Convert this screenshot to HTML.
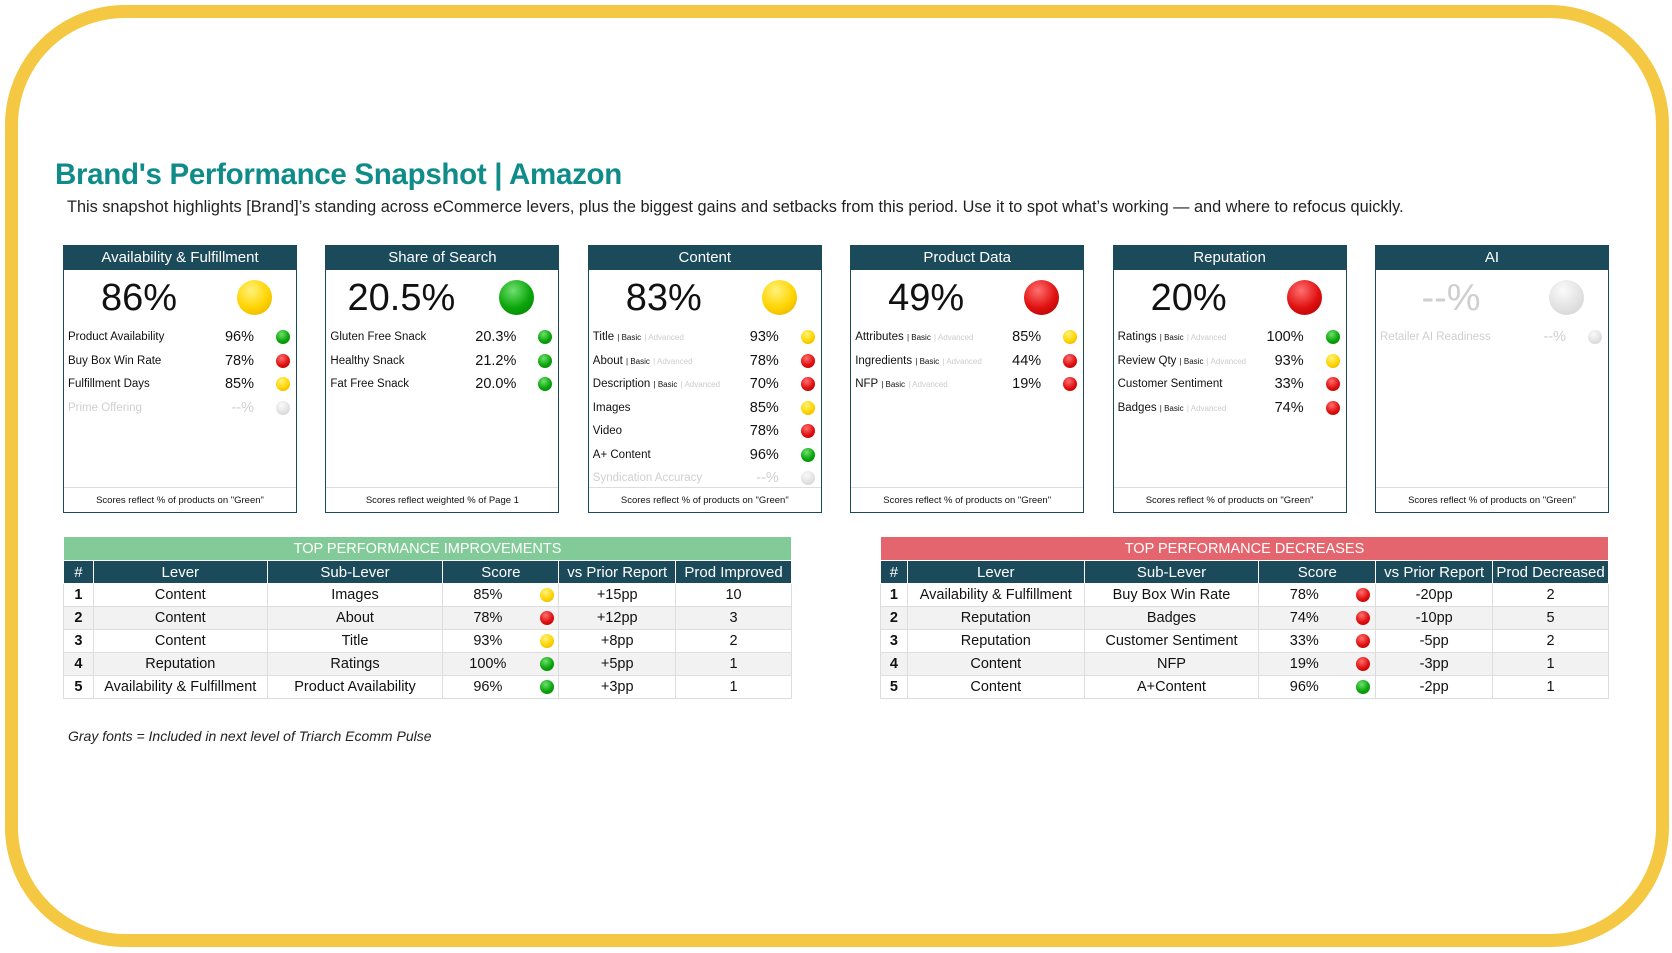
<!DOCTYPE html>
<html><head><meta charset="utf-8">
<style>
*{box-sizing:border-box;margin:0;padding:0}
body{width:1672px;height:953px;background:#fff;position:relative;overflow:hidden;font-family:"Liberation Sans",sans-serif;color:#111}
.frame{position:absolute;left:5px;top:5px;width:1664px;height:942px;border:13px solid #f4c842;border-radius:120px}
.title{position:absolute;left:55px;top:158px;font-size:29.5px;font-weight:bold;color:#0f8c8a;letter-spacing:-0.3px}
.sub{position:absolute;left:67px;top:198px;font-size:16.3px;color:#222}
.card{position:absolute;top:245px;width:234px;height:268px;border:1.5px solid #1b4a5a;background:#fff}
.card .hd{height:24px;background:#1b4a5a;color:#fff;font-size:15px;text-align:center;line-height:24px}
.big{position:absolute;top:30px;width:150px;text-align:center;left:0;font-size:38px;line-height:44px}
.bigdot{position:absolute;top:34px;left:173px;width:35px;height:35px;border-radius:50%}
.row{position:absolute;left:4px;width:224px;height:20px;font-size:11.5px;line-height:20px}
.row .v{position:absolute;right:38px;top:0;font-size:14.5px}
.row .d{position:absolute;right:2px;top:3px;width:14px;height:14px;border-radius:50%}
.row .b{font-size:8px}.row .a{font-size:8px;color:#ccc}
.foot{position:absolute;left:0;right:0;bottom:0;height:25px;border-top:1px solid #ddd;font-size:9.5px;text-align:center;line-height:25px}
.g{background:radial-gradient(circle at 40% 30%,#6fe06f,#0aa50a 55%,#067a06)}
.y{background:radial-gradient(circle at 40% 30%,#fff27a,#ffd400 55%,#e0a800)}
.r{background:radial-gradient(circle at 40% 30%,#ff7070,#e01010 55%,#a80000)}
.n{background:radial-gradient(circle at 40% 30%,#fafafa,#e0e0e0 60%,#cfcfcf)}
.gray{color:#cfcfcf!important}
table{position:absolute;top:536px;border-collapse:collapse;font-size:14.5px;border:1.5px solid #1b4a5a}
td,th{border:1px solid #ddd;height:23px;text-align:center;padding:0}
th{background:#1b4a5a;color:#fff;font-weight:normal;border-color:#fff;font-size:15px}
.cap{color:#fff;font-size:14.5px;height:24px}
tr.alt td{background:#f2f2f2}
td.num{font-weight:bold}
.sc{display:flex;align-items:center;justify-content:center;height:22px}
.sc span.t{width:60px;text-align:center;margin-left:10px}
.sd{display:inline-block;width:14px;height:14px;border-radius:50%;margin-left:22px}
.note{position:absolute;left:68px;top:728px;font-size:14px;font-style:italic;color:#222}
</style></head><body>
<div class="frame"></div>
<div class="title">Brand's Performance Snapshot | Amazon</div>
<div class="sub">This snapshot highlights [Brand]’s standing across eCommerce levers, plus the biggest gains and setbacks from this period. Use it to spot what’s working — and where to refocus quickly.</div>
<div id="cards"></div>
<table id="imp" style="left:63px;width:729px"></table>
<table id="dec" style="left:880px;width:729px"></table>
<div class="note">Gray fonts = Included in next level of Triarch Ecomm Pulse</div>
<script>
const cardTitles=["Availability & Fulfillment","Share of Search","Content","Product Data","Reputation","AI"];
const cardScores=["86%","20.5%","83%","49%","20%","--%"];
const cardStatus=["y","g","y","r","r","n"];
const cardFooters=['Scores reflect % of products on "Green"','Scores reflect weighted % of Page 1','Scores reflect % of products on "Green"','Scores reflect % of products on "Green"','Scores reflect % of products on "Green"','Scores reflect % of products on "Green"'];
const cardRows=[
 [["Product Availability",0,"96%","g"],["Buy Box Win Rate",0,"78%","r"],["Fulfillment Days",0,"85%","y"],["Prime Offering",0,"--%","n"]],
 [["Gluten Free Snack",0,"20.3%","g"],["Healthy Snack",0,"21.2%","g"],["Fat Free Snack",0,"20.0%","g"]],
 [["Title",1,"93%","y"],["About",1,"78%","r"],["Description",1,"70%","r"],["Images",0,"85%","y"],["Video",0,"78%","r"],["A+ Content",0,"96%","g"],["Syndication Accuracy",0,"--%","n"]],
 [["Attributes",1,"85%","y"],["Ingredients",1,"44%","r"],["NFP",1,"19%","r"]],
 [["Ratings",1,"100%","g"],["Review Qty",1,"93%","y"],["Customer Sentiment",0,"33%","r"],["Badges",1,"74%","r"]],
 [["Retailer AI Readiness",0,"--%","n"]]
];
const impLever=["Content","Content","Content","Reputation","Availability & Fulfillment"];
const impSub=["Images","About","Title","Ratings","Product Availability"];
const impScore=["85%","78%","93%","100%","96%"];
const impStatus=["y","r","y","g","g"];
const impDelta=["+15pp","+12pp","+8pp","+5pp","+3pp"];
const impCount=[10,3,2,1,1];
const decLever=["Availability & Fulfillment","Reputation","Reputation","Content","Content"];
const decSub=["Buy Box Win Rate","Badges","Customer Sentiment","NFP","A+Content"];
const decScore=["78%","74%","33%","19%","96%"];
const decStatus=["r","r","r","r","g"];
const decDelta=["-20pp","-10pp","-5pp","-3pp","-2pp"];
const decCount=[2,5,2,1,1];

const cards=document.getElementById('cards');
cardTitles.forEach((t,i)=>{
  const c=document.createElement('div');c.className='card';c.style.left=(63+i*262.4)+'px';
  
  
  const grayBig=cardStatus[i]==='n'?' gray':'';
  let h=`<div class="hd">${t}</div><div class="big${grayBig}">${cardScores[i]}</div><div class="bigdot ${cardStatus[i]}"></div>`;
  cardRows[i].forEach((r,j)=>{
    const g=r[3]==='n'?' gray':'';
    const lab=r[1]?`${r[0]} <span class="b">| Basic</span> <span class="a">| Advanced</span>`:r[0];
    h+=`<div class="row${g}" style="top:${81+j*23.5}px"><span>${lab}</span><span class="v${g}">${r[2]}</span><span class="d ${r[3]}"></span></div>`;
  });
  h+=`<div class="foot">${cardFooters[i]}</div>`;
  c.innerHTML=h;cards.appendChild(c);
});
function build(id,cap,capColor,lastHead,lev,sub,sc,st,dl,ct,widths){
  const t=document.getElementById(id);
  let h=`<colgroup>${widths.map(w=>`<col style="width:${w}px">`).join('')}</colgroup>`;
  h+=`<tr><th colspan="6" class="cap" style="background:${capColor}">${cap}</th></tr>`;
  h+=`<tr><th>#</th><th>Lever</th><th>Sub-Lever</th><th>Score</th><th>vs Prior Report</th><th>${lastHead}</th></tr>`;
  lev.forEach((l,i)=>{
    h+=`<tr class="${i%2?'alt':''}"><td class="num">${i+1}</td><td>${l}</td><td>${sub[i]}</td><td><div class="sc"><span class="t">${sc[i]}</span><span class="sd ${st[i]}"></span></div></td><td>${dl[i]}</td><td>${ct[i]}</td></tr>`;
  });
  t.innerHTML=h;
}
build('imp','TOP PERFORMANCE IMPROVEMENTS','#82cb98','Prod Improved',impLever,impSub,impScore,impStatus,impDelta,impCount,[30,174,176,116,117,116]);
build('dec','TOP PERFORMANCE DECREASES','#e5656f','Prod Decreased',decLever,decSub,decScore,decStatus,decDelta,decCount,[27,177,175,117,117,116]);
</script>
</body></html>
